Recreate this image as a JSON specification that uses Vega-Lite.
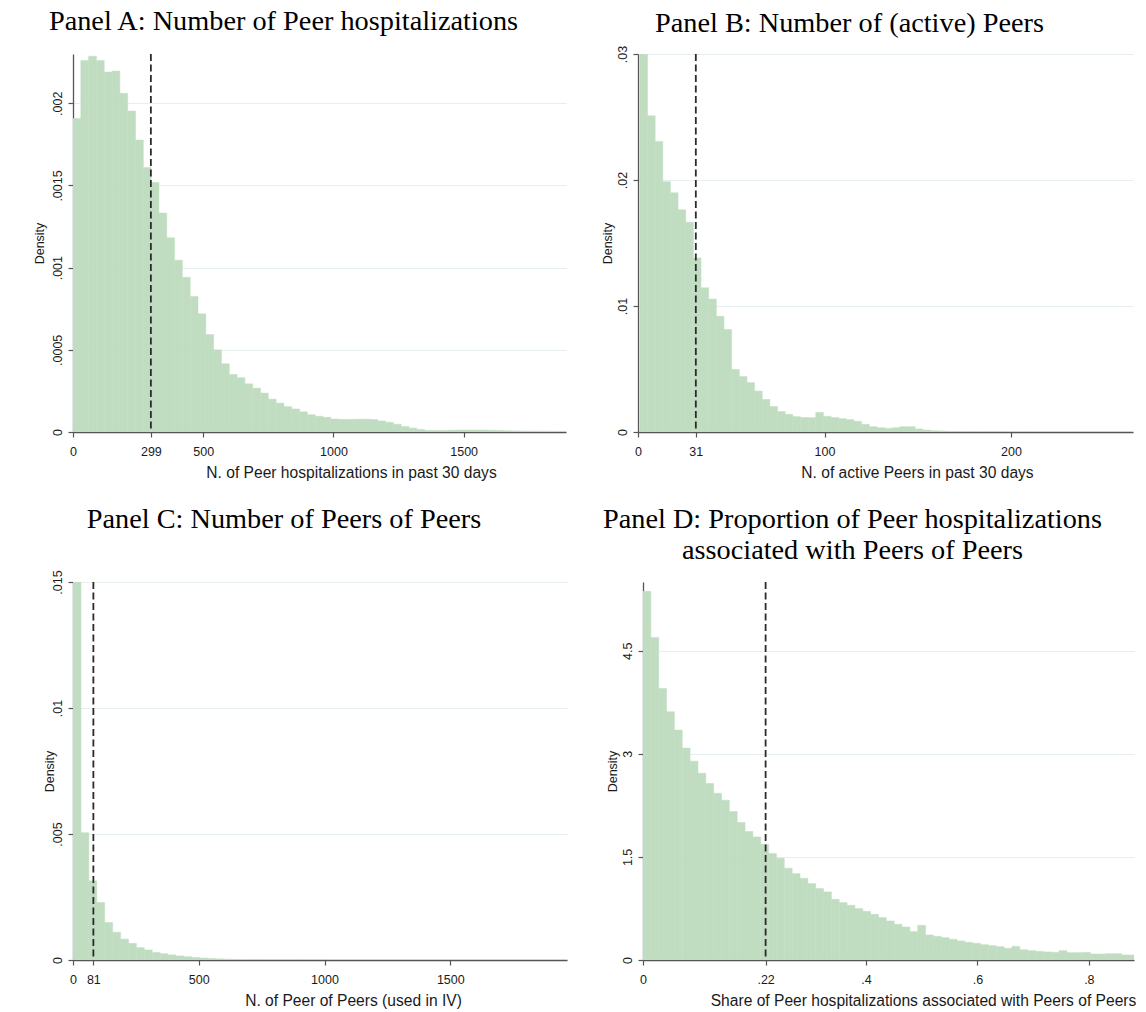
{
  "$schema": "https://vega.github.io/schema/vega-lite/v6.json",
  "background": "white",
  "padding": {"left": 33, "top": 6, "right": 0, "bottom": 0},
  "config": {
    "view": {"stroke": null},
    "font": "Liberation Sans",
    "title": {"font": "Liberation Serif", "fontSize": 28.3, "fontWeight": "normal", "color": "#000000", "anchor": "middle", "offset": 11, "dx": -36},
    "axis": {
      "labelFont": "Liberation Sans", "titleFont": "Liberation Sans",
      "labelColor": "#1a1a1a", "titleColor": "#1a1a1a",
      "domainColor": "#555555", "tickColor": "#555555", "domainWidth": 1.3, "tickWidth": 1.2,
      "tickSize": 5, "labelFontSize": 12.5, "titleFontWeight": "normal",
      "gridColor": "#e6eef0", "gridWidth": 1.2, "labelFlush": false, "labelOverlap": false
    },
    "axisY": {"labelAngle": -90, "labelAlign": "center", "labelBaseline": "bottom", "grid": true, "titleFontSize": 12.5},
    "axisX": {"grid": false, "titleFontSize": 15.6, "labelPadding": 8, "titlePadding": 8, "titleAlign": "center"}
  },
  "datasets": {
    "refs": [
      {"panel": "A", "value": 299},
      {"panel": "B", "value": 31},
      {"panel": "C", "value": 81},
      {"panel": "D", "value": 0.22}
    ],
    "a": [
      {"lo": 0, "hi": 30, "density": 0.001907},
      {"lo": 30, "hi": 60, "density": 0.002261},
      {"lo": 60, "hi": 90, "density": 0.002287},
      {"lo": 90, "hi": 120, "density": 0.002261},
      {"lo": 120, "hi": 150, "density": 0.00219},
      {"lo": 150, "hi": 180, "density": 0.002196},
      {"lo": 180, "hi": 210, "density": 0.002061},
      {"lo": 210, "hi": 240, "density": 0.001953},
      {"lo": 240, "hi": 270, "density": 0.001777},
      {"lo": 270, "hi": 300, "density": 0.001609},
      {"lo": 300, "hi": 330, "density": 0.001518},
      {"lo": 330, "hi": 360, "density": 0.001332},
      {"lo": 360, "hi": 390, "density": 0.001182},
      {"lo": 390, "hi": 420, "density": 0.001045},
      {"lo": 420, "hi": 450, "density": 0.000941},
      {"lo": 450, "hi": 480, "density": 0.000824},
      {"lo": 480, "hi": 510, "density": 0.000719},
      {"lo": 510, "hi": 540, "density": 0.000593},
      {"lo": 540, "hi": 570, "density": 0.0005},
      {"lo": 570, "hi": 600, "density": 0.000415},
      {"lo": 600, "hi": 630, "density": 0.00035},
      {"lo": 630, "hi": 660, "density": 0.00033},
      {"lo": 660, "hi": 690, "density": 0.000293},
      {"lo": 690, "hi": 720, "density": 0.000267},
      {"lo": 720, "hi": 750, "density": 0.000237},
      {"lo": 750, "hi": 780, "density": 0.0002},
      {"lo": 780, "hi": 810, "density": 0.000176},
      {"lo": 810, "hi": 840, "density": 0.000154},
      {"lo": 840, "hi": 870, "density": 0.00014},
      {"lo": 870, "hi": 900, "density": 0.000123},
      {"lo": 900, "hi": 930, "density": 0.000105},
      {"lo": 930, "hi": 960, "density": 0.000096},
      {"lo": 960, "hi": 990, "density": 0.000089},
      {"lo": 990, "hi": 1020, "density": 0.000079},
      {"lo": 1020, "hi": 1050, "density": 0.000077},
      {"lo": 1050, "hi": 1080, "density": 0.000077},
      {"lo": 1080, "hi": 1110, "density": 0.000078},
      {"lo": 1110, "hi": 1140, "density": 0.000078},
      {"lo": 1140, "hi": 1170, "density": 0.000076},
      {"lo": 1170, "hi": 1200, "density": 0.000067},
      {"lo": 1200, "hi": 1230, "density": 0.000059},
      {"lo": 1230, "hi": 1260, "density": 0.000047},
      {"lo": 1260, "hi": 1290, "density": 0.000034},
      {"lo": 1290, "hi": 1320, "density": 0.000024},
      {"lo": 1320, "hi": 1350, "density": 0.000016},
      {"lo": 1350, "hi": 1380, "density": 0.00001},
      {"lo": 1380, "hi": 1410, "density": 0.00001},
      {"lo": 1410, "hi": 1440, "density": 0.00001},
      {"lo": 1440, "hi": 1470, "density": 0.000011},
      {"lo": 1470, "hi": 1500, "density": 0.000012},
      {"lo": 1500, "hi": 1530, "density": 0.000012},
      {"lo": 1530, "hi": 1560, "density": 0.000012},
      {"lo": 1560, "hi": 1590, "density": 0.000012},
      {"lo": 1590, "hi": 1620, "density": 0.000011},
      {"lo": 1620, "hi": 1650, "density": 0.00001},
      {"lo": 1650, "hi": 1680, "density": 0.000008},
      {"lo": 1680, "hi": 1710, "density": 0.000007},
      {"lo": 1710, "hi": 1740, "density": 0.000006},
      {"lo": 1740, "hi": 1770, "density": 0.000006},
      {"lo": 1770, "hi": 1800, "density": 0.000005},
      {"lo": 1800, "hi": 1830, "density": 0.000005},
      {"lo": 1830, "hi": 1860, "density": 0.000004},
      {"lo": 1860, "hi": 1890, "density": 0.000004}
    ],
    "b": [
      {"lo": 1, "hi": 5.1, "density": 0.03},
      {"lo": 5.1, "hi": 9.2, "density": 0.0251},
      {"lo": 9.2, "hi": 13.3, "density": 0.02306},
      {"lo": 13.3, "hi": 17.4, "density": 0.01987},
      {"lo": 17.4, "hi": 21.5, "density": 0.01898},
      {"lo": 21.5, "hi": 25.6, "density": 0.01763},
      {"lo": 25.6, "hi": 29.7, "density": 0.01665},
      {"lo": 29.7, "hi": 33.8, "density": 0.01381},
      {"lo": 33.8, "hi": 37.9, "density": 0.01144},
      {"lo": 37.9, "hi": 42, "density": 0.01055},
      {"lo": 42, "hi": 46.1, "density": 0.00918},
      {"lo": 46.1, "hi": 50.2, "density": 0.00814},
      {"lo": 50.2, "hi": 54.3, "density": 0.00496},
      {"lo": 54.3, "hi": 58.4, "density": 0.0044},
      {"lo": 58.4, "hi": 62.5, "density": 0.00392},
      {"lo": 62.5, "hi": 66.6, "density": 0.00325},
      {"lo": 66.6, "hi": 70.7, "density": 0.00258},
      {"lo": 70.7, "hi": 74.8, "density": 0.00202},
      {"lo": 74.8, "hi": 78.9, "density": 0.00162},
      {"lo": 78.9, "hi": 83, "density": 0.0014},
      {"lo": 83, "hi": 87.1, "density": 0.00122},
      {"lo": 87.1, "hi": 91.2, "density": 0.00115},
      {"lo": 91.2, "hi": 95.3, "density": 0.00113},
      {"lo": 95.3, "hi": 99.4, "density": 0.00155},
      {"lo": 99.4, "hi": 103.5, "density": 0.00125},
      {"lo": 103.5, "hi": 107.6, "density": 0.00115},
      {"lo": 107.6, "hi": 111.7, "density": 0.00106},
      {"lo": 111.7, "hi": 115.8, "density": 0.00098},
      {"lo": 115.8, "hi": 119.9, "density": 0.00085},
      {"lo": 119.9, "hi": 124, "density": 0.00061},
      {"lo": 124, "hi": 128.1, "density": 0.00042},
      {"lo": 128.1, "hi": 132.2, "density": 0.00034},
      {"lo": 132.2, "hi": 136.3, "density": 0.00029},
      {"lo": 136.3, "hi": 140.4, "density": 0.00034},
      {"lo": 140.4, "hi": 144.5, "density": 0.00042},
      {"lo": 144.5, "hi": 148.6, "density": 0.00042},
      {"lo": 148.6, "hi": 152.7, "density": 0.00024},
      {"lo": 152.7, "hi": 156.8, "density": 0.00016},
      {"lo": 156.8, "hi": 160.9, "density": 0.0001},
      {"lo": 160.9, "hi": 165, "density": 0.00008},
      {"lo": 165, "hi": 169.1, "density": 0.00005},
      {"lo": 169.1, "hi": 173.2, "density": 0.00005},
      {"lo": 173.2, "hi": 177.3, "density": 0.00004},
      {"lo": 177.3, "hi": 181.4, "density": 0.00004},
      {"lo": 181.4, "hi": 185.5, "density": 0.00003},
      {"lo": 185.5, "hi": 189.6, "density": 0.00003},
      {"lo": 189.6, "hi": 193.7, "density": 0.00003},
      {"lo": 193.7, "hi": 197.8, "density": 0.00003},
      {"lo": 197.8, "hi": 201.9, "density": 0.00003},
      {"lo": 201.9, "hi": 206, "density": 0.00002},
      {"lo": 206, "hi": 210.1, "density": 0.00002},
      {"lo": 210.1, "hi": 214.2, "density": 0.00002},
      {"lo": 214.2, "hi": 218.3, "density": 0.00002},
      {"lo": 218.3, "hi": 222.4, "density": 0.00002},
      {"lo": 222.4, "hi": 226.5, "density": 0.00002},
      {"lo": 226.5, "hi": 230.6, "density": 0.00002},
      {"lo": 230.6, "hi": 234.7, "density": 0.00002},
      {"lo": 234.7, "hi": 238.8, "density": 0.00001},
      {"lo": 238.8, "hi": 242.9, "density": 0.00001},
      {"lo": 242.9, "hi": 247, "density": 0.00001},
      {"lo": 247, "hi": 251.1, "density": 0.00001},
      {"lo": 251.1, "hi": 255.2, "density": 0.00001},
      {"lo": 255.2, "hi": 259.3, "density": 0.00001},
      {"lo": 259.3, "hi": 263.4, "density": 0.00001},
      {"lo": 263.4, "hi": 267.5, "density": 0.00001}
    ],
    "c": [
      {"lo": 0, "hi": 31.5, "density": 0.015},
      {"lo": 31.5, "hi": 63, "density": 0.00505},
      {"lo": 63, "hi": 94.5, "density": 0.00314},
      {"lo": 94.5, "hi": 126, "density": 0.00228},
      {"lo": 126, "hi": 157.5, "density": 0.00149},
      {"lo": 157.5, "hi": 189, "density": 0.0011},
      {"lo": 189, "hi": 220.5, "density": 0.00083},
      {"lo": 220.5, "hi": 252, "density": 0.00066},
      {"lo": 252, "hi": 283.5, "density": 0.00049},
      {"lo": 283.5, "hi": 315, "density": 0.0004},
      {"lo": 315, "hi": 346.5, "density": 0.0003},
      {"lo": 346.5, "hi": 378, "density": 0.00025},
      {"lo": 378, "hi": 409.5, "density": 0.0002},
      {"lo": 409.5, "hi": 441, "density": 0.00016},
      {"lo": 441, "hi": 472.5, "density": 0.00013},
      {"lo": 472.5, "hi": 504, "density": 0.0001},
      {"lo": 504, "hi": 535.5, "density": 0.00008},
      {"lo": 535.5, "hi": 567, "density": 0.00006},
      {"lo": 567, "hi": 598.5, "density": 0.000045},
      {"lo": 598.5, "hi": 630, "density": 0.000035},
      {"lo": 630, "hi": 661.5, "density": 0.000028},
      {"lo": 661.5, "hi": 693, "density": 0.000022},
      {"lo": 693, "hi": 724.5, "density": 0.000018},
      {"lo": 724.5, "hi": 756, "density": 0.000014},
      {"lo": 756, "hi": 787.5, "density": 0.000011},
      {"lo": 787.5, "hi": 819, "density": 0.000009},
      {"lo": 819, "hi": 850.5, "density": 0.000008},
      {"lo": 850.5, "hi": 882, "density": 0.000007},
      {"lo": 882, "hi": 913.5, "density": 0.000006},
      {"lo": 913.5, "hi": 945, "density": 0.000005},
      {"lo": 945, "hi": 976.5, "density": 0.000005},
      {"lo": 976.5, "hi": 1008, "density": 0.000004}
    ],
    "d": [
      {"lo": 0, "hi": 0.01408, "density": 5.364},
      {"lo": 0.01408, "hi": 0.02817, "density": 4.694},
      {"lo": 0.02817, "hi": 0.04225, "density": 3.951},
      {"lo": 0.04225, "hi": 0.05634, "density": 3.612},
      {"lo": 0.05634, "hi": 0.07042, "density": 3.345},
      {"lo": 0.07042, "hi": 0.08451, "density": 3.083},
      {"lo": 0.08451, "hi": 0.09859, "density": 2.893},
      {"lo": 0.09859, "hi": 0.11268, "density": 2.718},
      {"lo": 0.11268, "hi": 0.12676, "density": 2.568},
      {"lo": 0.12676, "hi": 0.14085, "density": 2.427},
      {"lo": 0.14085, "hi": 0.15493, "density": 2.325},
      {"lo": 0.15493, "hi": 0.16901, "density": 2.16},
      {"lo": 0.16901, "hi": 0.1831, "density": 2.0},
      {"lo": 0.1831, "hi": 0.19718, "density": 1.869},
      {"lo": 0.19718, "hi": 0.21127, "density": 1.791},
      {"lo": 0.21127, "hi": 0.22535, "density": 1.684},
      {"lo": 0.22535, "hi": 0.23944, "density": 1.549},
      {"lo": 0.23944, "hi": 0.25352, "density": 1.481},
      {"lo": 0.25352, "hi": 0.26761, "density": 1.335},
      {"lo": 0.26761, "hi": 0.28169, "density": 1.257},
      {"lo": 0.28169, "hi": 0.29577, "density": 1.189},
      {"lo": 0.29577, "hi": 0.30986, "density": 1.112},
      {"lo": 0.30986, "hi": 0.32394, "density": 1.039},
      {"lo": 0.32394, "hi": 0.33803, "density": 0.99},
      {"lo": 0.33803, "hi": 0.35211, "density": 0.883},
      {"lo": 0.35211, "hi": 0.3662, "density": 0.835},
      {"lo": 0.3662, "hi": 0.38028, "density": 0.796},
      {"lo": 0.38028, "hi": 0.39437, "density": 0.748},
      {"lo": 0.39437, "hi": 0.40845, "density": 0.709},
      {"lo": 0.40845, "hi": 0.42254, "density": 0.665},
      {"lo": 0.42254, "hi": 0.43662, "density": 0.617},
      {"lo": 0.43662, "hi": 0.4507, "density": 0.568},
      {"lo": 0.4507, "hi": 0.46479, "density": 0.519},
      {"lo": 0.46479, "hi": 0.47887, "density": 0.48},
      {"lo": 0.47887, "hi": 0.49296, "density": 0.413},
      {"lo": 0.49296, "hi": 0.50704, "density": 0.505},
      {"lo": 0.50704, "hi": 0.52113, "density": 0.364},
      {"lo": 0.52113, "hi": 0.53521, "density": 0.345},
      {"lo": 0.53521, "hi": 0.5493, "density": 0.325},
      {"lo": 0.5493, "hi": 0.56338, "density": 0.301},
      {"lo": 0.56338, "hi": 0.57746, "density": 0.277},
      {"lo": 0.57746, "hi": 0.59155, "density": 0.257},
      {"lo": 0.59155, "hi": 0.60563, "density": 0.243},
      {"lo": 0.60563, "hi": 0.61972, "density": 0.223},
      {"lo": 0.61972, "hi": 0.6338, "density": 0.209},
      {"lo": 0.6338, "hi": 0.64789, "density": 0.194},
      {"lo": 0.64789, "hi": 0.66197, "density": 0.17},
      {"lo": 0.66197, "hi": 0.67606, "density": 0.199},
      {"lo": 0.67606, "hi": 0.69014, "density": 0.15},
      {"lo": 0.69014, "hi": 0.70423, "density": 0.136},
      {"lo": 0.70423, "hi": 0.71831, "density": 0.126},
      {"lo": 0.71831, "hi": 0.73239, "density": 0.117},
      {"lo": 0.73239, "hi": 0.74648, "density": 0.112},
      {"lo": 0.74648, "hi": 0.76056, "density": 0.136},
      {"lo": 0.76056, "hi": 0.77465, "density": 0.107},
      {"lo": 0.77465, "hi": 0.78873, "density": 0.107},
      {"lo": 0.78873, "hi": 0.80282, "density": 0.112},
      {"lo": 0.80282, "hi": 0.8169, "density": 0.087},
      {"lo": 0.8169, "hi": 0.83099, "density": 0.087},
      {"lo": 0.83099, "hi": 0.84507, "density": 0.092},
      {"lo": 0.84507, "hi": 0.85915, "density": 0.092},
      {"lo": 0.85915, "hi": 0.87324, "density": 0.073},
      {"lo": 0.87324, "hi": 0.88732, "density": 0.073}
    ]
  },
  "spacing": 22,
  "vconcat": [
    {
      "spacing": 35,
      "hconcat": [
        {
          "title": {"text": "Panel A: Number of Peer hospitalizations", "offset": 17},
          "width": 493,
          "height": 378,
          "layer": [
            {
              "data": {"name": "a"},
              "mark": {"type": "bar", "color": "#c1ddc1", "stroke": "#c1ddc1", "strokeWidth": 0.5, "clip": true},
              "encoding": {
                "x": {"field": "lo", "type": "quantitative", "scale": {"domain": [0, 1893], "nice": false, "zero": false},
                      "axis": {"title": "N. of Peer hospitalizations in past 30 days", "values": [0, 299, 500, 1000, 1500], "format": ".6~r", "titleX": 278}},
                "x2": {"field": "hi"},
                "y": {"field": "density", "type": "quantitative", "scale": {"domain": [0, 0.0023], "nice": false},
                      "axis": {"title": "Density", "values": [0, 0.0005, 0.001, 0.0015, 0.002], "format": ".6~r", "labelPadding": 4, "titlePadding": 5, "labelExpr": "datum.value == 0 ? '0' : replace(datum.label, '0.', '.')"}},
                "y2": {"datum": 0}
              }
            },
            {
              "data": {"name": "refs"},
              "transform": [{"filter": "datum.panel == 'A'"}],
              "mark": {"type": "rule", "color": "#2b2b2b", "strokeWidth": 1.8, "strokeDash": [7, 3.5]},
              "encoding": {"x": {"field": "value", "type": "quantitative"}}
            }
          ]
        },
        {
          "title": {"text": "Panel B: Number of (active) Peers", "offset": 7},
          "width": 495,
          "height": 378,
          "layer": [
            {
              "data": {"name": "b"},
              "mark": {"type": "bar", "color": "#c1ddc1", "stroke": "#c1ddc1", "strokeWidth": 0.5, "clip": true},
              "encoding": {
                "x": {"field": "lo", "type": "quantitative", "scale": {"domain": [0, 265.4], "nice": false, "zero": false},
                      "axis": {"title": "N. of active Peers in past 30 days", "values": [0, 31, 100, 200], "format": ".6~r", "titleX": 279}},
                "x2": {"field": "hi"},
                "y": {"field": "density", "type": "quantitative", "scale": {"domain": [0, 0.03], "nice": false},
                      "axis": {"title": "Density", "values": [0, 0.01, 0.02, 0.03], "format": ".6~r", "labelPadding": 4, "titlePadding": 1.5, "labelExpr": "datum.value == 0 ? '0' : replace(datum.label, '0.', '.')"}},
                "y2": {"datum": 0}
              }
            },
            {
              "data": {"name": "refs"},
              "transform": [{"filter": "datum.panel == 'B'"}],
              "mark": {"type": "rule", "color": "#2b2b2b", "strokeWidth": 1.8, "strokeDash": [7, 3.5]},
              "encoding": {"x": {"field": "value", "type": "quantitative"}}
            }
          ]
        }
      ]
    },
    {
      "spacing": 35,
      "hconcat": [
        {
          "title": {"text": "Panel C: Number of Peers of Peers", "offset": 36},
          "width": 494,
          "height": 378,
          "layer": [
            {
              "data": {"name": "c"},
              "mark": {"type": "bar", "color": "#c1ddc1", "stroke": "#c1ddc1", "strokeWidth": 0.5, "clip": true},
              "encoding": {
                "x": {"field": "lo", "type": "quantitative", "scale": {"domain": [0, 1964], "nice": false, "zero": false},
                      "axis": {"title": "N. of Peer of Peers (used in IV)", "values": [0, 81, 500, 1000, 1500], "format": ".6~r", "titleX": 280}},
                "x2": {"field": "hi"},
                "y": {"field": "density", "type": "quantitative", "scale": {"domain": [0, 0.015], "nice": false},
                      "axis": {"title": "Density", "values": [0, 0.005, 0.01, 0.015], "format": ".6~r", "labelPadding": 4, "titlePadding": -5, "labelExpr": "datum.value == 0 ? '0' : replace(datum.label, '0.', '.')"}},
                "y2": {"datum": 0}
              }
            },
            {
              "data": {"name": "refs"},
              "transform": [{"filter": "datum.panel == 'C'"}],
              "mark": {"type": "rule", "color": "#2b2b2b", "strokeWidth": 1.8, "strokeDash": [7, 3.5]},
              "encoding": {"x": {"field": "value", "type": "quantitative"}}
            }
          ]
        },
        {
          "title": {"text": ["Panel D: Proportion of Peer hospitalizations", "associated with Peers of Peers"], "lineHeight": 31, "offset": 16},
          "width": 491,
          "height": 378,
          "layer": [
            {
              "data": {"name": "d"},
              "mark": {"type": "bar", "color": "#c1ddc1", "stroke": "#c1ddc1", "strokeWidth": 0.5, "clip": true},
              "encoding": {
                "x": {"field": "lo", "type": "quantitative", "scale": {"domain": [0, 0.881], "nice": false, "zero": false},
                      "axis": {"title": "Share of Peer hospitalizations associated with Peers of Peers", "values": [0, 0.22, 0.4, 0.6, 0.8], "format": ".6~r", "labelExpr": "datum.value == 0 ? '0' : replace(datum.label, '0.', '.')", "titleX": 280}},
                "x2": {"field": "hi"},
                "y": {"field": "density", "type": "quantitative", "scale": {"domain": [0, 5.5], "nice": false},
                      "axis": {"title": "Density", "values": [0, 1.5, 3, 4.5], "format": ".6~r", "labelPadding": 4, "titlePadding": 2}},
                "y2": {"datum": 0}
              }
            },
            {
              "data": {"name": "refs"},
              "transform": [{"filter": "datum.panel == 'D'"}],
              "mark": {"type": "rule", "color": "#2b2b2b", "strokeWidth": 1.8, "strokeDash": [7, 3.5]},
              "encoding": {"x": {"field": "value", "type": "quantitative"}}
            }
          ]
        }
      ]
    }
  ]
}
